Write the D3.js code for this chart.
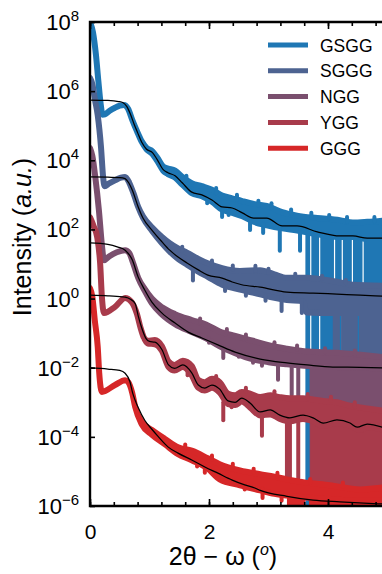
<!DOCTYPE html>
<html>
<head>
<meta charset="utf-8">
<script src="https://cdn.jsdelivr.net/npm/d3@7"></script>
<style>
  html, body { margin: 0; padding: 0; background: #fff; }
  svg { display: block; font-family: "Liberation Sans", Arial, Helvetica, sans-serif; }
</style>
</head>
<body>
<svg id="chart" width="382" height="574"></svg>
<script>
// ---- Sample names and colours -------------------------------------------
const samples = ["GSGG", "SGGG", "NGG", "YGG", "GGG"];
const colors  = ["#1f77b4", "#4d6391", "#7a4f6e", "#a83b4b", "#d62728"];

// ---- Axis ticks ---------------------------------------------------------
const xMinorTicks = [0, 0.4, 0.8, 1.2, 1.6, 2, 2.4, 2.8, 3.2, 3.6, 4, 4.4, 4.8];
const xMajorTicks = [0, 2, 4];
const yExponents  = [8, 6, 4, 2, 0, -2, -4, -6];

// ---- Measured curves: [2θ-ω, log10 upper, log10 lower] ------------------
const gsggData = [[0.00,8.00,8.00],[0.05,7.70,7.70],[0.10,7.05,7.05],[0.14,6.30,6.30],[0.18,5.62,5.62],[0.21,5.32,5.32],[0.25,5.33,5.33],[0.33,5.43,5.43],[0.42,5.52,5.52],[0.50,5.58,5.58],[0.57,5.60,5.60],[0.64,5.49,5.49],[0.71,5.17,5.17],[0.79,4.84,4.84],[0.87,4.55,4.53],[0.95,4.36,4.32],[1.05,4.26,4.18],[1.13,4.08,3.98],[1.23,3.82,3.70],[1.31,3.76,3.60],[1.43,3.70,3.50],[1.55,3.52,3.30],[1.71,3.34,3.05],[1.88,3.25,2.96],[2.05,3.15,2.80],[2.22,2.98,2.57],[2.39,2.90,2.48],[2.56,2.82,2.38],[2.75,2.74,2.22],[2.97,2.68,2.12],[3.23,2.50,2.03],[3.48,2.40,1.97],[3.82,2.33,1.86],[4.20,2.27,1.78],[4.42,2.20,1.78],[4.66,2.22,1.72],[4.95,2.26,1.72]];
const sgggData = [[0.00,6.38,6.38],[0.04,6.20,6.20],[0.085,5.74,5.74],[0.13,5.30,5.30],[0.185,4.38,4.38],[0.22,3.52,3.52],[0.245,3.25,3.25],[0.32,3.33,3.33],[0.42,3.42,3.42],[0.52,3.50,3.50],[0.59,3.52,3.52],[0.66,3.35,3.35],[0.73,3.05,3.05],[0.81,2.65,2.65],[0.89,2.38,2.34],[1.04,2.06,1.96],[1.21,1.78,1.60],[1.34,1.60,1.36],[1.48,1.45,1.15],[1.63,1.33,0.98],[1.82,1.15,0.78],[1.98,1.02,0.63],[2.22,0.88,0.40],[2.52,0.80,0.26],[2.86,0.82,0.12],[3.10,0.70,0.02],[3.31,0.60,-0.04],[3.58,0.60,-0.08],[3.64,0.60,-0.40],[4.10,0.50,-0.42],[4.42,0.40,-0.42],[4.95,0.37,-0.42]];
const nggData  = [[0.00,4.35,4.35],[0.04,4.12,4.12],[0.09,3.50,3.50],[0.15,2.55,2.55],[0.20,1.55,1.55],[0.235,1.11,1.11],[0.32,1.22,1.22],[0.45,1.34,1.34],[0.59,1.40,1.40],[0.66,1.32,1.32],[0.72,1.05,1.05],[0.81,0.60,0.60],[0.92,0.28,0.22],[1.04,0.00,-0.14],[1.21,-0.25,-0.46],[1.43,-0.45,-0.74],[1.71,-0.62,-0.97],[1.95,-0.75,-1.15],[2.18,-0.95,-1.38],[2.44,-1.08,-1.58],[2.74,-1.22,-1.76],[3.00,-1.35,-1.84],[3.31,-1.45,-1.90],[3.60,-1.52,-1.94],[4.15,-1.57,-1.98],[4.95,-1.70,-2.02]];
const yggData  = [[0.00,2.35,2.35],[0.06,2.10,2.10],[0.12,1.78,1.78],[0.17,1.03,1.03],[0.20,0.05,0.05],[0.235,-0.42,-0.42],[0.42,-0.24,-0.24],[0.59,0.02,0.02],[0.70,-0.10,-0.10],[0.79,-0.45,-0.45],[0.85,-0.85,-0.85],[0.90,-1.11,-1.11],[0.97,-1.22,-1.30],[1.09,-1.20,-1.32],[1.21,-1.38,-1.52],[1.32,-1.82,-1.98],[1.42,-1.92,-2.08],[1.56,-1.80,-1.98],[1.71,-1.95,-2.22],[1.82,-2.35,-2.58],[1.93,-2.42,-2.66],[2.05,-2.32,-2.58],[2.18,-2.42,-2.72],[2.32,-2.75,-3.05],[2.44,-2.80,-3.08],[2.55,-2.70,-2.98],[2.69,-2.75,-3.15],[2.86,-2.85,-3.38],[3.03,-2.80,-3.35],[3.19,-2.85,-3.48],[3.36,-2.88,-3.55],[3.58,-2.88,-3.48],[3.75,-2.92,-3.55],[3.92,-2.96,-3.68],[4.15,-3.00,-3.60],[4.37,-3.10,-3.68],[4.54,-3.15,-3.80],[4.66,-3.18,-3.72],[4.95,-3.25,-3.80]];
const gggData  = [[0.00,0.30,0.30],[0.04,0.05,0.05],[0.08,-0.62,-0.62],[0.13,-1.40,-1.40],[0.155,-2.15,-2.15],[0.20,-2.70,-2.70],[0.42,-2.50,-2.50],[0.59,-2.36,-2.36],[0.64,-2.41,-2.41],[0.71,-2.73,-2.73],[0.76,-3.14,-3.14],[0.87,-3.56,-3.64],[1.04,-3.80,-3.94],[1.26,-4.06,-4.22],[1.48,-4.30,-4.50],[1.71,-4.40,-4.68],[1.98,-4.62,-4.92],[2.18,-4.79,-5.23],[2.52,-4.97,-5.40],[2.86,-5.08,-5.55],[3.10,-5.15,-5.65],[3.31,-5.23,-5.70],[3.58,-5.31,-5.75],[4.03,-5.40,-5.80],[4.54,-5.52,-5.85],[4.95,-5.46,-5.85]];

// ---- Single noisy points off the curves: [2θ-ω, log10 from, log10 to] ---
const gsggSpikes = [[2.22,2.60,2.36],[2.69,2.25,1.98],[2.91,2.15,1.90],[3.19,2.05,1.38],[3.53,1.97,1.38],
                    [1.62,3.42,3.55],[2.12,3.05,3.20],[2.47,2.86,3.00],[2.83,2.70,2.83],[3.05,2.62,2.76],[3.38,2.44,2.58],[3.72,2.35,2.48],[4.02,2.30,2.42],[4.32,2.22,2.36],[4.78,2.24,2.36],
                    [1.97,2.90,2.76],[2.33,2.55,2.42]];
const sgggSpikes = [[1.73,0.85,0.52],[2.27,0.45,0.22],[3.22,0.05,-0.36],[3.56,-0.05,-0.42],
                    [1.55,1.38,1.50],[2.05,0.98,1.10],[2.40,0.84,0.96],[2.78,0.80,0.95],[3.00,0.75,0.86],[3.45,0.60,0.72],[3.90,0.56,0.66],[4.30,0.44,0.54],
                    [2.62,0.22,0.08],[2.95,0.08,-0.06]];
const nggSpikes  = [[2.24,-1.40,-1.72],[2.74,-1.74,-1.86],[2.89,-1.78,-1.94],[3.16,-1.86,-2.35],[3.39,-1.90,-2.79],[3.50,-1.92,-2.88],
                    [1.85,-0.70,-0.58],[2.30,-1.00,-0.88],[2.62,-1.16,-1.04],[3.10,-1.38,-1.26],[3.48,-1.48,-1.36],[3.95,-1.55,-1.44],[4.45,-1.62,-1.50],
                    [2.00,-1.15,-1.28],[2.50,-1.58,-1.68]];
const yggSpikes  = [[2.24,-3.00,-3.52],[2.89,-3.35,-3.97],[3.31,-3.50,-5.19],[3.36,-3.50,-5.19],[3.50,-3.50,-5.19],
                    [2.12,-2.36,-2.24],[2.62,-2.70,-2.58],[3.10,-2.80,-2.68],[3.66,-2.88,-2.76],[4.05,-2.96,-2.84],[4.45,-3.12,-3.00],
                    [1.64,-2.10,-2.22],[2.38,-3.02,-3.14]];
const gggSpikes  = [[1.93,-4.85,-5.04],[2.22,-5.15,-5.25],[2.90,-5.50,-5.77],[3.22,-5.60,-5.85],
                    [1.60,-4.34,-4.22],[2.05,-4.66,-4.54],[2.40,-4.90,-4.78],[2.75,-5.04,-4.92],[3.15,-5.15,-5.04],[3.70,-5.34,-5.22],[4.25,-5.44,-5.32],
                    [1.80,-4.75,-4.86],[2.60,-5.40,-5.52]];

// ---- Ranges where the counts drop to zero: [from, to, log10 top] --------
const gsggDrops = [[3.62,3.70,1.85],[3.72,3.85,1.85],[3.87,4.10,1.80],[4.12,4.23,1.80],[4.25,4.40,1.80],[4.42,4.58,1.78],[4.60,4.95,1.75]];
const sgggDrops = [[4.08,4.20,-0.40],[4.22,4.50,-0.40],[4.52,4.95,-0.40]];
const nggDrops  = [[3.69,4.95,-1.95]];
const yggDrops  = [[3.70,4.95,-3.60]];
const gggDrops  = [[3.31,3.62,-5.60],[3.68,4.95,-5.70]];

// ---- Simulated reflectivity fits: [2θ-ω, log10 I] -----------------------
const gsggFit = [[0.00,5.74],[0.30,5.73],[0.48,5.70],[0.55,5.67],[0.62,5.55],[0.68,5.33],[0.74,5.05],[0.80,4.80],[0.87,4.52],[0.95,4.32],[1.05,4.22],[1.13,4.02],[1.23,3.73],[1.31,3.64],[1.43,3.55],[1.55,3.35],[1.71,3.08],[1.88,3.00],[2.05,2.85],[2.22,2.65],[2.39,2.62],[2.56,2.48],[2.75,2.33],[2.97,2.33],[3.23,2.10],[3.48,2.10],[3.82,1.93],[4.20,1.81],[4.42,1.81],[4.66,1.75],[4.95,1.75]];
const sgggFit = [[0.00,3.52],[0.30,3.51],[0.50,3.50],[0.59,3.47],[0.65,3.35],[0.71,3.14],[0.81,2.65],[0.89,2.33],[1.04,1.98],[1.21,1.64],[1.34,1.40],[1.48,1.20],[1.63,1.03],[1.82,0.83],[1.98,0.68],[2.22,0.59],[2.39,0.48],[2.55,0.40],[2.86,0.33],[3.31,0.19],[3.75,0.16],[4.15,0.13],[4.54,0.10],[4.95,0.07]];
const nggFit  = [[0.00,1.61],[0.30,1.57],[0.47,1.49],[0.59,1.40],[0.71,1.12],[0.81,0.62],[0.92,0.25],[1.04,-0.10],[1.21,-0.42],[1.43,-0.71],[1.65,-0.97],[1.88,-1.14],[2.15,-1.34],[2.44,-1.55],[2.86,-1.75],[3.31,-1.86],[3.65,-1.92],[4.08,-1.98],[4.54,-1.99],[4.95,-2.01]];
const yggFit  = [[0.00,0.10],[0.30,0.08],[0.54,0.05],[0.59,0.04],[0.68,-0.02],[0.76,-0.15],[0.81,-0.50],[0.87,-0.85],[0.94,-1.15],[1.00,-1.24],[1.09,-1.26],[1.21,-1.48],[1.32,-1.92],[1.42,-2.02],[1.56,-1.92],[1.71,-2.15],[1.82,-2.50],[1.93,-2.59],[2.05,-2.50],[2.18,-2.62],[2.32,-2.96],[2.44,-3.00],[2.55,-2.88],[2.69,-3.02],[2.86,-3.28],[3.03,-3.22],[3.19,-3.37],[3.36,-3.45],[3.58,-3.37],[3.75,-3.45],[3.92,-3.60],[4.15,-3.51],[4.37,-3.60],[4.49,-3.72],[4.66,-3.63],[4.91,-3.72]];
const gggFit  = [[0.00,-2.00],[0.30,-2.04],[0.50,-2.08],[0.59,-2.16],[0.67,-2.40],[0.72,-2.75],[0.81,-3.15],[0.92,-3.52],[1.04,-3.78],[1.14,-3.98],[1.31,-4.29],[1.48,-4.47],[1.71,-4.67],[1.93,-4.87],[2.15,-5.05],[2.39,-5.25],[2.60,-5.39],[2.77,-5.48],[2.86,-5.55],[3.31,-5.72],[3.75,-5.83],[4.20,-5.88],[4.91,-5.94]];

// ---- Assemble -----------------------------------------------------------
const series = [
  { name: samples[0], color: colors[0], data: gsggData, spikes: gsggSpikes, drops: gsggDrops, fit: gsggFit },
  { name: samples[1], color: colors[1], data: sgggData, spikes: sgggSpikes, drops: sgggDrops, fit: sgggFit },
  { name: samples[2], color: colors[2], data: nggData,  spikes: nggSpikes,  drops: nggDrops,  fit: nggFit  },
  { name: samples[3], color: colors[3], data: yggData,  spikes: yggSpikes,  drops: yggDrops,  fit: yggFit  },
  { name: samples[4], color: colors[4], data: gggData,  spikes: gggSpikes,  drops: gggDrops,  fit: gggFit  }
];

const svg = d3.select("#chart");
const plot = { left: 90, top: 22, bottom: 506, right: 387.5 };

const x = d3.scaleLinear().domain([0, 5]).range([plot.left, plot.right]);
const y = d3.scaleLog().domain([1e-6, 1e8]).range([plot.bottom, plot.top]);
const ly = L => y(Math.pow(10, L));

svg.append("defs").append("clipPath").attr("id", "plotArea")
  .append("rect")
  .attr("x", plot.left).attr("y", plot.top)
  .attr("width", plot.right - plot.left).attr("height", plot.bottom - plot.top);

const layer = svg.append("g").attr("clip-path", "url(#plotArea)");

const band = d3.area()
  .curve(d3.curveMonotoneX)
  .x(d => x(d[0]))
  .y1(d => ly(d[1]))
  .y0(d => ly(d[2]));

series.forEach(s => {
  const g = layer.append("g").attr("class", "series");
  g.selectAll("rect.drop").data(s.drops).join("rect")
    .attr("class", "drop")
    .attr("x", d => x(d[0]))
    .attr("width", d => x(d[1]) - x(d[0]))
    .attr("y", d => ly(d[2]))
    .attr("height", d => ly(-6.6) - ly(d[2]))
    .attr("fill", s.color);
  g.append("path").datum(s.data)
    .attr("d", band)
    .attr("fill", s.color)
    .attr("stroke", s.color)
    .attr("stroke-width", 6)
    .attr("stroke-linejoin", "round")
    .attr("stroke-linecap", "round");
  g.selectAll("line.spike").data(s.spikes).join("line")
    .attr("class", "spike")
    .attr("x1", d => x(d[0])).attr("x2", d => x(d[0]))
    .attr("y1", d => ly(d[1])).attr("y2", d => ly(d[2]))
    .attr("stroke", s.color)
    .attr("stroke-width", 4)
    .attr("stroke-linecap", "round");
});

const fitLine = d3.line()
  .curve(d3.curveMonotoneX)
  .x(d => x(d[0]))
  .y(d => ly(d[1]));

series.forEach(s => {
  layer.append("path").datum(s.fit)
    .attr("d", fitLine)
    .attr("fill", "none")
    .attr("stroke", "#000")
    .attr("stroke-width", 1.25);
});

// ---- Axes ---------------------------------------------------------------
const tickStroke = g => g.selectAll("line").attr("stroke", "#000").attr("stroke-width", 1.6);

svg.append("g")
  .attr("transform", `translate(0,${plot.bottom})`)
  .call(d3.axisBottom(x).tickValues(xMinorTicks).tickSizeInner(-4).tickSizeOuter(0).tickFormat(""))
  .call(g => g.select(".domain").remove())
  .call(tickStroke);

svg.append("g")
  .attr("transform", `translate(0,${plot.bottom})`)
  .call(d3.axisBottom(x).tickValues(xMajorTicks).tickSizeInner(-7).tickSizeOuter(0).tickPadding(18).tickFormat(d3.format("d")))
  .call(g => g.select(".domain").remove())
  .call(tickStroke)
  .call(g => g.selectAll("text")
    .attr("font-size", 21)
    .attr("font-family", "Liberation Sans, Arial, sans-serif")
    .attr("fill", "#000"));

svg.append("g")
  .attr("transform", `translate(0,${plot.top})`)
  .call(d3.axisTop(x).tickValues(xMinorTicks).tickSizeInner(-4).tickSizeOuter(0).tickFormat(""))
  .call(g => g.select(".domain").remove())
  .call(tickStroke);

svg.append("g")
  .attr("transform", `translate(0,${plot.top})`)
  .call(d3.axisTop(x).tickValues(xMajorTicks).tickSizeInner(-7).tickSizeOuter(0).tickFormat(""))
  .call(g => g.select(".domain").remove())
  .call(tickStroke);

svg.append("g")
  .attr("transform", `translate(${plot.left},0)`)
  .call(d3.axisLeft(y).tickValues(yExponents.map(e => Math.pow(10, e))).tickSizeInner(-5).tickSizeOuter(0).tickFormat(""))
  .call(g => g.select(".domain").remove())
  .call(tickStroke);

// y tick labels as 10 with a superscript exponent
const yLabels = svg.append("g").attr("class", "ylabels");
yExponents.forEach(e => {
  const t = yLabels.append("text")
    .attr("x", 79)
    .attr("y", y(Math.pow(10, e)) + 8)
    .attr("text-anchor", "end")
    .attr("font-size", 22)
    .attr("fill", "#000");
  t.append("tspan").text("10");
  t.append("tspan")
    .attr("font-size", 15)
    .attr("dy", -9)
    .text(e < 0 ? "\u2212" + Math.abs(e) : String(e));
});

// frame: left, top and bottom spines
svg.append("path")
  .attr("d", `M${plot.right},${plot.top}H${plot.left}V${plot.bottom}H${plot.right}`)
  .attr("fill", "none")
  .attr("stroke", "#000")
  .attr("stroke-width", 2.4);

// ---- Axis titles --------------------------------------------------------
const yTitle = svg.append("text")
  .attr("transform", "translate(31,237) rotate(-90)")
  .attr("text-anchor", "middle")
  .attr("font-size", 25)
  .attr("fill", "#000");
yTitle.append("tspan").text("Intensity (");
yTitle.append("tspan").attr("font-style", "italic").text("a.u.");
yTitle.append("tspan").text(")");

const xTitle = svg.append("text")
  .attr("x", 223)
  .attr("y", 565)
  .attr("text-anchor", "middle")
  .attr("font-size", 25)
  .attr("fill", "#000");
xTitle.append("tspan").text("2\u03b8 \u2212 \u03c9 (");
xTitle.append("tspan").attr("font-style", "italic").attr("font-size", 16).attr("dy", -10).text("o");
xTitle.append("tspan").attr("dy", 10).text(")");

// ---- Legend -------------------------------------------------------------
const legend = svg.append("g").attr("class", "legend");
series.forEach((s, i) => {
  const ry = 45 + i * 25.8;
  legend.append("line")
    .attr("x1", 268).attr("x2", 308)
    .attr("y1", ry).attr("y2", ry)
    .attr("stroke", s.color)
    .attr("stroke-width", 5);
  legend.append("text")
    .attr("x", 320)
    .attr("y", ry + 6.5)
    .attr("font-size", 17.5)
    .attr("fill", "#000")
    .text(s.name);
});
</script>
</body>
</html>
